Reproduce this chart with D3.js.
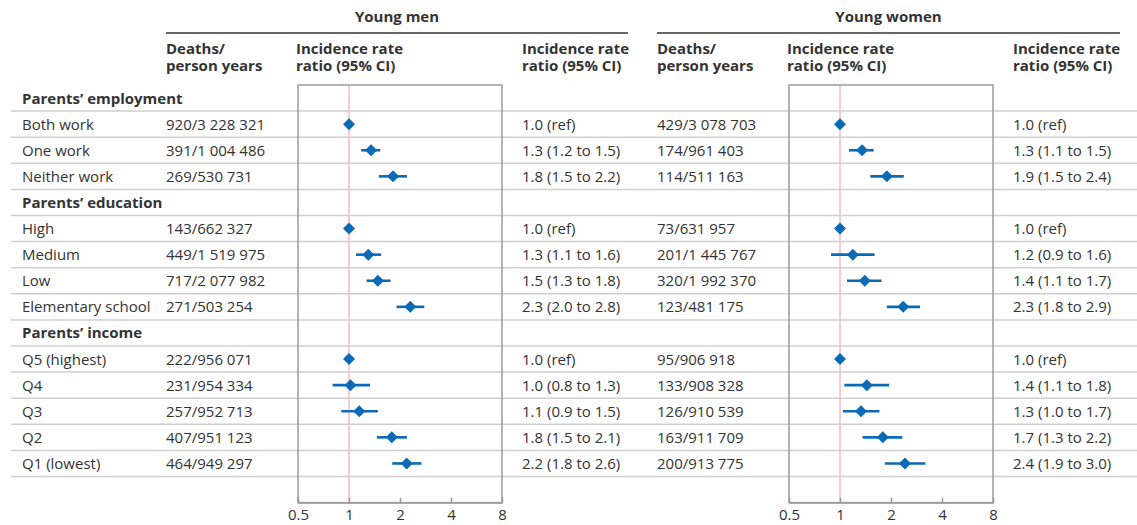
<!DOCTYPE html>
<html><head><meta charset="utf-8">
<script src="https://cdn.jsdelivr.net/npm/d3@7"></script>
<style>
html,body{margin:0;padding:0;background:#fff;}
svg text{font-family:"Open Sans","Noto Sans",sans-serif;fill:#333;}
</style></head>
<body><svg id="c" width="1137" height="525"></svg>
<script>
// ---- data ----
const rowLabels = ["Parents’ employment","Both work","One work","Neither work","Parents’ education","High","Medium","Low","Elementary school","Parents’ income","Q5 (highest)","Q4","Q3","Q2","Q1 (lowest)"];
const isGroup = [1,0,0,0,1,0,0,0,0,1,0,0,0,0,0];

const menDeaths = ["","920/3 228 321","391/1 004 486","269/530 731","","143/662 327","449/1 519 975","717/2 077 982","271/503 254","","222/956 071","231/954 334","257/952 713","407/951 123","464/949 297"];
const menCI = ["","1.0 (ref)","1.3 (1.2 to 1.5)","1.8 (1.5 to 2.2)","","1.0 (ref)","1.3 (1.1 to 1.6)","1.5 (1.3 to 1.8)","2.3 (2.0 to 2.8)","","1.0 (ref)","1.0 (0.8 to 1.3)","1.1 (0.9 to 1.5)","1.8 (1.5 to 2.1)","2.2 (1.8 to 2.6)"];
const menEst = [null,1.0,1.35,1.82,null,1.0,1.30,1.48,2.30,null,1.0,1.02,1.15,1.79,2.19];
const menLo  = [null,null,1.18,1.50,null,null,1.10,1.27,1.91,null,null,0.80,0.90,1.46,1.80];
const menHi  = [null,null,1.53,2.20,null,null,1.55,1.76,2.78,null,null,1.33,1.48,2.20,2.68];

const womenDeaths = ["","429/3 078 703","174/961 403","114/511 163","","73/631 957","201/1 445 767","320/1 992 370","123/481 175","","95/906 918","133/908 328","126/910 539","163/911 709","200/913 775"];
const womenCI = ["","1.0 (ref)","1.3 (1.1 to 1.5)","1.9 (1.5 to 2.4)","","1.0 (ref)","1.2 (0.9 to 1.6)","1.4 (1.1 to 1.7)","2.3 (1.8 to 2.9)","","1.0 (ref)","1.4 (1.1 to 1.8)","1.3 (1.0 to 1.7)","1.7 (1.3 to 2.2)","2.4 (1.9 to 3.0)"];
const womenEst = [null,1.0,1.35,1.89,null,1.0,1.19,1.40,2.36,null,1.0,1.44,1.33,1.79,2.42];
const womenLo  = [null,null,1.13,1.51,null,null,0.885,1.10,1.89,null,null,1.06,1.04,1.36,1.84];
const womenHi  = [null,null,1.58,2.38,null,null,1.60,1.76,2.97,null,null,1.95,1.71,2.33,3.19];

const tickValues = [0.5,1,2,4,8];
const tickLabels = ["0.5","1","2","4","8"];
const panelTitles = ["Young men","Young women"];
const colHeaders = [["Deaths/","person years"],["Incidence rate","ratio (95% CI)"],["Incidence rate","ratio (95% CI)"]];

// ---- layout ----
const svg = d3.select("#c");
const rowH = 26.1, plotTop = 85, nRows = 16;
const y = d3.scaleLinear().domain([0,nRows]).range([plotTop, plotTop+nRows*rowH]);
const yc = i => y(i+0.5);

const panels = [
  {title:panelTitles[0], deaths:menDeaths, ci:menCI, est:menEst, lo:menLo, hi:menHi,
   x: d3.scaleLog().base(2).domain([0.5,8]).range([298,502]), deathsX:166, ciX:522, hdrX:296, lineFrom:166, lineTo:628},
  {title:panelTitles[1], deaths:womenDeaths, ci:womenCI, est:womenEst, lo:womenLo, hi:womenHi,
   x: d3.scaleLog().base(2).domain([0.5,8]).range([789,993]), deathsX:657, ciX:1013, hdrX:787, lineFrom:657, lineTo:1120}
];

// row separator lines
svg.append("g").selectAll("line").data(d3.range(15)).join("line")
  .attr("x1",11).attr("x2",1137)
  .attr("y1",i=>y(i+1)).attr("y2",i=>y(i+1))
  .attr("stroke","#cfcfcf").attr("stroke-width",1.5);

// row labels
svg.append("g").selectAll("text").data(rowLabels).join("text")
  .attr("x",22).attr("y",(d,i)=>yc(i)+5.5)
  .attr("font-size",15).attr("font-weight",(d,i)=>isGroup[i]?700:400)
  .text(d=>d);

const plotBottom = y(nRows);

panels.forEach(p=>{
  const g = svg.append("g");
  g.append("text").attr("x",(p.lineFrom+p.lineTo)/2).attr("y",22).attr("text-anchor","middle")
    .attr("font-size",15).attr("font-weight",700).text(p.title);
  g.append("line").attr("x1",p.lineFrom).attr("x2",p.lineTo).attr("y1",33).attr("y2",33)
    .attr("stroke","#666").attr("stroke-width",2);
  const hx = [p.deathsX, p.hdrX, p.ciX];
  colHeaders.forEach((h,k)=>{
    const t = g.append("text").attr("x",hx[k]).attr("y",54).attr("font-size",15).attr("font-weight",700);
    t.append("tspan").attr("x",hx[k]).attr("y",54).text(h[0]);
    t.append("tspan").attr("x",hx[k]).attr("y",71).text(h[1]);
  });
  g.append("g").selectAll("text").data(p.deaths).join("text")
    .attr("x",p.deathsX).attr("y",(d,i)=>yc(i)+5.5).attr("font-size",15).text(d=>d);
  g.append("g").selectAll("text").data(p.ci).join("text")
    .attr("x",p.ciX).attr("y",(d,i)=>yc(i)+5.5).attr("font-size",15).text(d=>d);

  const [x0,x1] = p.x.range();
  g.append("line").attr("x1",p.x(1)).attr("x2",p.x(1)).attr("y1",plotTop).attr("y2",plotBottom)
    .attr("stroke","#f4bcbc").attr("stroke-width",1.5);
  g.append("rect").attr("x",x0).attr("y",plotTop).attr("width",x1-x0).attr("height",plotBottom-plotTop)
    .attr("fill","none").attr("stroke","#9a9a9a").attr("stroke-width",1.5);
  const ax = g.append("g").attr("transform",`translate(0,${plotBottom})`)
    .call(d3.axisBottom(p.x).tickValues(tickValues).tickFormat((d,i)=>tickLabels[i]).tickSizeInner(-5).tickSizeOuter(0).tickPadding(7));
  ax.select(".domain").attr("stroke","#9a9a9a").attr("stroke-width",1.5);
  ax.selectAll(".tick line").attr("stroke","#9a9a9a").attr("stroke-width",1.5);
  ax.selectAll(".tick text").attr("font-size",15).attr("fill","#333").attr("font-family","Open Sans, sans-serif");

  const idx = d3.range(p.est.length);
  g.append("g").selectAll("line").data(idx.filter(i=>p.lo[i]!=null)).join("line")
    .attr("x1",i=>p.x(p.lo[i])).attr("x2",i=>p.x(p.hi[i]))
    .attr("y1",i=>yc(i)).attr("y2",i=>yc(i))
    .attr("stroke","#0a6ab6").attr("stroke-width",2.6);
  g.append("g").selectAll("path").data(idx.filter(i=>p.est[i]!=null)).join("path")
    .attr("transform",i=>`translate(${p.x(p.est[i])},${yc(i)})`)
    .attr("d","M0,-6L6,0L0,6L-6,0Z")
    .attr("fill","#0a6ab6");
});
</script></body></html>
